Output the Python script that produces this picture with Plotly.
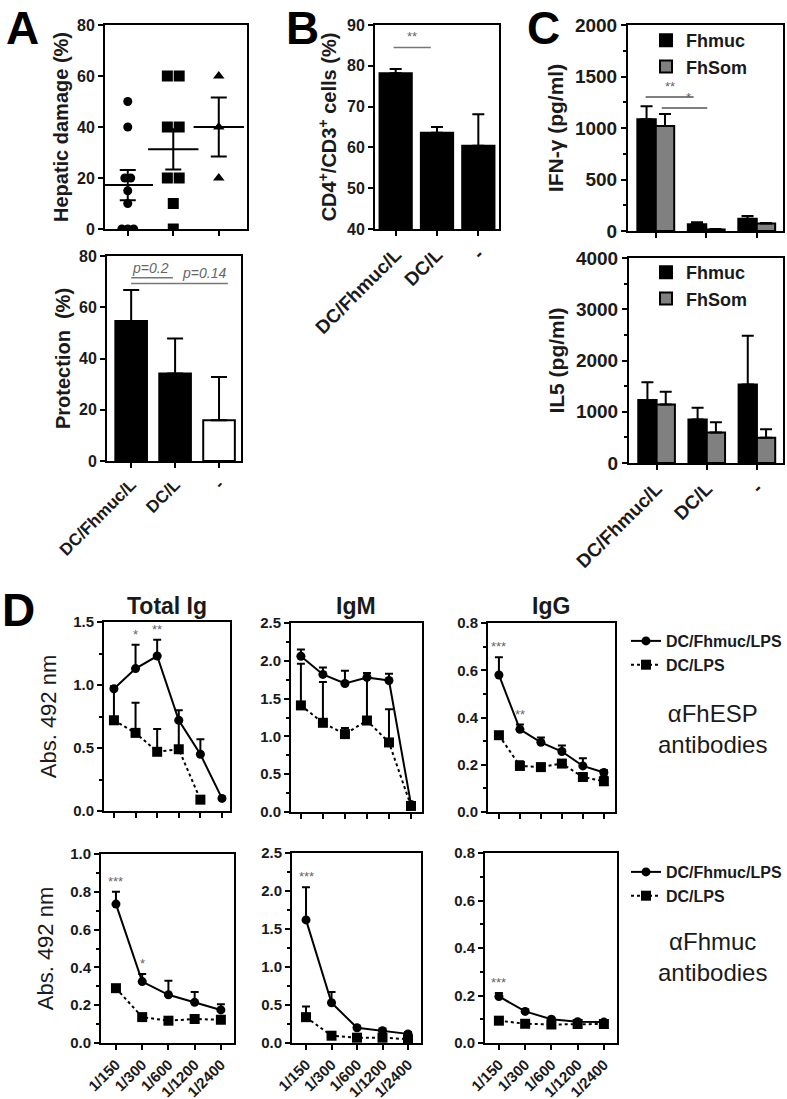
import plotly.graph_objects as go
import numpy as np

W, H = 787, 1099
FONT = "Liberation Sans, Arial, sans-serif"

# ---------------- data ----------------
groups = ["DC/Fhmuc/L", "DC/L", "-"]

# A (top) hepatic damage, individual animals
hep_dcfhmuc = [50, 40, 20, 20, 15, 10, 0, 0, 0]
hep_dcl = [60, 60, 40, 40, 20, 20, 10, 0]
hep_none = [60, 40, 20]

# A (bottom) protection
protection = [54.6, 34.1, 15.9]
protection_err = [12.1, 13.7, 16.9]

# B CD4+/CD3+
cd4 = [78.2, 63.6, 60.4]
cd4_err = [1.0, 1.4, 7.7]

# C cytokines
series_c = ["Fhmuc", "FhSom"]
ifng_fhmuc = [1085, 65, 120]
ifng_fhmuc_err = [125, 20, 25]
ifng_fhsom = [1020, 15, 72]
ifng_fhsom_err = [115, 5, 5]
il5_fhmuc = [1230, 850, 1530]
il5_fhmuc_err = [345, 230, 955]
il5_fhsom = [1140, 595, 495]
il5_fhsom_err = [250, 200, 165]

# D antibodies
series_d = ["DC/Fhmuc/LPS", "DC/LPS"]
dil_top = ["1/150", "1/300", "1/600", "1/1200", "1/2400", "1/4800"]
dil_bottom = ["1/150", "1/300", "1/600", "1/1200", "1/2400"]

esp_total_fh = [0.97, 1.13, 1.23, 0.72, 0.45, 0.10]
esp_total_fh_err = [0.02, 0.19, 0.13, 0.08, 0.12, 0.0]
esp_total_lps = [0.72, 0.62, 0.47, 0.49, 0.09, None]
esp_total_lps_err = [0.25, 0.24, 0.18, 0.22, 0.0, 0.0]

esp_igm_fh = [2.06, 1.82, 1.70, 1.78, 1.74, 0.10]
esp_igm_fh_err = [0.09, 0.09, 0.17, 0.06, 0.09, 0.0]
esp_igm_lps = [1.41, 1.18, 1.03, 1.21, 0.92, 0.08]
esp_igm_lps_err = [0.55, 0.54, 0.08, 0.57, 0.44, 0.02]

esp_igg_fh = [0.58, 0.35, 0.295, 0.256, 0.195, 0.167]
esp_igg_fh_err = [0.075, 0.02, 0.02, 0.025, 0.033, 0.01]
esp_igg_lps = [0.325, 0.195, 0.19, 0.205, 0.148, 0.13]
esp_igg_lps_err = [0.01, 0.02, 0.01, 0.01, 0.017, 0.02]

muc_total_fh = [0.735, 0.325, 0.255, 0.215, 0.175]
muc_total_fh_err = [0.065, 0.04, 0.075, 0.055, 0.03]
muc_total_lps = [0.29, 0.137, 0.118, 0.127, 0.123]
muc_total_lps_err = [0.015, 0.005, 0.005, 0.005, 0.005]

muc_igm_fh = [1.62, 0.53, 0.20, 0.16, 0.12]
muc_igm_fh_err = [0.43, 0.14, 0.02, 0.03, 0.02]
muc_igm_lps = [0.34, 0.096, 0.07, 0.07, 0.05]
muc_igm_lps_err = [0.14, 0.01, 0.01, 0.01, 0.01]

muc_igg_fh = [0.196, 0.133, 0.10, 0.09, 0.088]
muc_igg_fh_err = [0.015, 0.008, 0.006, 0.004, 0.004]
muc_igg_lps = [0.094, 0.081, 0.078, 0.08, 0.08]
muc_igg_lps_err = [0.005, 0.004, 0.004, 0.004, 0.004]

# significance marks (index of point, label)
esp_total_stars = [(1, "*"), (2, "**")]
esp_igg_stars = [(0, "***"), (1, "**")]
muc_total_stars = [(0, "***"), (1, "*")]
muc_igm_stars = [(0, "***")]
muc_igg_stars = [(0, "***")]

# ---------------- helpers ----------------
def dom(l, r, t, b):
    return [l / W, r / W], [1 - b / H, 1 - t / H]


def tf(size=16, weight="bold", color="#1a1a1a"):
    return dict(family=FONT, size=size, color=color, weight=weight)


def base_axis(**kw):
    d = dict(showline=True, linewidth=2, linecolor="black", mirror=True,
             ticks="outside", ticklen=5, tickwidth=2, tickcolor="black",
             showgrid=False, zeroline=False, automargin=False,
             tickfont=tf(16), fixedrange=True)
    d.update(kw)
    return d


def up_err(arr, w=5):
    return dict(type="data", symmetric=False, array=arr,
                arrayminus=[0] * len(arr), color="black", thickness=2, width=w)


def spread(vals, step):
    tot = {v: vals.count(v) for v in vals}
    seen = {}
    offs = []
    for v in vals:
        k = seen.get(v, 0)
        seen[v] = k + 1
        offs.append((k - (tot[v] - 1) / 2) * step)
    return offs


def note(text, xref, yref, x, y, font, **kw):
    d = dict(text=text, xref=xref, yref=yref, x=x, y=y, showarrow=False, font=font,
             xanchor="center", yanchor="middle")
    d.update(kw)
    return d


fig = go.Figure()
layout = dict(width=W, height=H, margin=dict(l=0, r=0, t=0, b=0),
              paper_bgcolor="white", plot_bgcolor="white",
              template="none", barmode="group", bargap=0.27, bargroupgap=0,
              font=dict(family=FONT, color="black"))
annotations = []
shapes = []
GRAY_TXT = tf(13, "normal", "#666")

# ---------------- panel A top ----------------
xd, yd = dom(105, 247, 25, 229)
layout["xaxis"] = base_axis(domain=xd, anchor="y", range=[-0.5, 2.62],
                            tickvals=[0, 1, 2], showticklabels=False)
layout["yaxis"] = base_axis(domain=yd, anchor="x", range=[0, 80], dtick=20,
                            title=dict(text="Hepatic damage (%)", font=tf(20), standoff=3))
sets = [(hep_dcfhmuc, "circle", 9, 0.13), (hep_dcl, "square", 11, 0.26),
        (hep_none, "triangle-up", 10, 0.2)]
for i, (vals, sym, sz, step) in enumerate(sets):
    offs = spread(vals, step)
    fig.add_trace(go.Scatter(x=[i + o for o in offs], y=vals, mode="markers",
                             marker=dict(symbol=sym, size=sz, color="black"),
                             xaxis="x", yaxis="y", showlegend=False))
    arr = np.array(vals, dtype=float)
    mean = arr.mean()
    sem = arr.std(ddof=1) / np.sqrt(len(arr))
    fig.add_trace(go.Scatter(x=[i], y=[mean], mode="markers",
                             marker=dict(symbol="line-ew", size=36,
                                         line=dict(color="black", width=2)),
                             error_y=dict(type="data", array=[sem], color="black",
                                          thickness=2, width=8),
                             xaxis="x", yaxis="y", showlegend=False))

# ---------------- panel A bottom ----------------
xd, yd = dom(107, 241, 256, 461)
layout["xaxis2"] = base_axis(domain=xd, anchor="y2", type="category",
                             categoryarray=groups, range=[-0.55, 2.5],
                             tickangle=-45, tickfont=tf(17))
layout["yaxis2"] = base_axis(domain=yd, anchor="x2", range=[0, 80], dtick=20,
                             title=dict(text="Protection  (%)", font=tf(20), standoff=3))
fig.add_trace(go.Bar(x=groups, y=protection, width=0.72,
                     marker=dict(color=["black", "black", "white"],
                                 line=dict(color="black", width=2)),
                     error_y=up_err(protection_err, 8),
                     xaxis="x2", yaxis="y2", showlegend=False))
shapes.append(dict(type="line", xref="x2", yref="y2", x0=0, x1=0.95, y0=71.5, y1=71.5,
                   line=dict(color="#777", width=1.5)))
shapes.append(dict(type="line", xref="x2", yref="y2", x0=0, x1=2.2, y0=69.3, y1=69.3,
                   line=dict(color="#777", width=1.5)))
annotations.append(note("<i>p=0.2</i>", "x2", "y2", 0.43, 71.5, tf(14, "normal", "#666"),
                        yanchor="bottom"))
annotations.append(note("<i>p=0.14</i>", "x2", "y2", 1.66, 69.3, tf(14, "normal", "#666"),
                        yanchor="bottom"))

# ---------------- panel B ----------------
xd, yd = dom(375, 499, 25, 229)
layout["xaxis3"] = base_axis(domain=xd, anchor="y3", type="category",
                             categoryarray=groups, range=[-0.5, 2.5],
                             tickangle=-45, tickfont=tf(19))
layout["yaxis3"] = base_axis(domain=yd, anchor="x3", range=[40, 90], dtick=10,
                             title=dict(text="CD4<sup>+</sup>/CD3<sup>+</sup> cells (%)",
                                        font=tf(20), standoff=5))
fig.add_trace(go.Bar(x=groups, y=cd4, width=0.78,
                     marker=dict(color="black", line=dict(color="black", width=2)),
                     error_y=up_err(cd4_err, 6),
                     xaxis="x3", yaxis="y3", showlegend=False))
shapes.append(dict(type="line", xref="x3", yref="y3", x0=-0.05, x1=0.85, y0=84.5, y1=84.5,
                   line=dict(color="#777", width=1.5)))
annotations.append(note("**", "x3", "y3", 0.4, 84.5, GRAY_TXT, yanchor="bottom", yshift=1))

# ---------------- panel C top ----------------
xd, yd = dom(628, 783, 25, 231)
layout["xaxis4"] = base_axis(domain=xd, anchor="y4", type="category",
                             categoryarray=groups, range=[-0.55, 2.52],
                             showticklabels=False)
layout["yaxis4"] = base_axis(domain=yd, anchor="x4", range=[0, 2000], dtick=500,
                             tickfont=tf(19),
                             minor=dict(dtick=250, ticks="outside", ticklen=3,
                                        tickwidth=1.5, tickcolor="black"),
                             title=dict(text="IFN-γ (pg/ml)", font=tf(21), standoff=6))
for name, vals, errs, col in [(series_c[0], ifng_fhmuc, ifng_fhmuc_err, "black"),
                              (series_c[1], ifng_fhsom, ifng_fhsom_err, "#808080")]:
    fig.add_trace(go.Bar(x=groups, y=vals, name=name,
                         marker=dict(color=col, line=dict(color="black", width=2)),
                         error_y=up_err(errs, 6), xaxis="x4", yaxis="y4",
                         legend="legend"))
shapes.append(dict(type="line", xref="x4", yref="y4", x0=-0.2, x1=0.75, y0=1300, y1=1300,
                   line=dict(color="#555", width=1.5)))
shapes.append(dict(type="line", xref="x4", yref="y4", x0=0.12, x1=1.02, y0=1195, y1=1195,
                   line=dict(color="#555", width=1.5)))
annotations.append(note("**", "x4", "y4", 0.28, 1300, GRAY_TXT, yanchor="bottom", yshift=1))
annotations.append(note("*", "x4", "y4", 0.65, 1195, GRAY_TXT, yanchor="bottom", yshift=1))

# ---------------- panel C bottom ----------------
xd, yd = dom(629, 783, 258, 463)
layout["xaxis5"] = base_axis(domain=xd, anchor="y5", type="category",
                             categoryarray=groups, range=[-0.55, 2.52],
                             tickangle=-45, tickfont=tf(19))
layout["yaxis5"] = base_axis(domain=yd, anchor="x5", range=[0, 4000], dtick=1000,
                             tickfont=tf(19),
                             minor=dict(dtick=500, ticks="outside", ticklen=3,
                                        tickwidth=1.5, tickcolor="black"),
                             title=dict(text="IL5 (pg/ml)", font=tf(21), standoff=6))
for name, vals, errs, col in [(series_c[0], il5_fhmuc, il5_fhmuc_err, "black"),
                              (series_c[1], il5_fhsom, il5_fhsom_err, "#808080")]:
    fig.add_trace(go.Bar(x=groups, y=vals, name=name,
                         marker=dict(color=col, line=dict(color="black", width=2)),
                         error_y=up_err(errs, 6), xaxis="x5", yaxis="y5",
                         legend="legend2"))

# ---------------- panel D ----------------
d_panels = [
    (6, (104, 230, 622, 811), 1.5, 0.5, 0.25, dil_top, [-0.46, 5.37],
     esp_total_fh, esp_total_fh_err, esp_total_lps, esp_total_lps_err, esp_total_stars, "legend3", True),
    (7, (291, 422, 623, 812), 2.5, 0.5, 0.25, dil_top, [-0.45, 5.5],
     esp_igm_fh, esp_igm_fh_err, esp_igm_lps, esp_igm_lps_err, [], None, False),
    (8, (488, 615, 623, 812), 0.8, 0.2, 0.1, dil_top, [-0.52, 5.53],
     esp_igg_fh, esp_igg_fh_err, esp_igg_lps, esp_igg_lps_err, esp_igg_stars, None, False),
    (9, (101, 234, 854, 1043), 1.0, 0.2, 0.1, dil_bottom, [-0.57, 4.5],
     muc_total_fh, muc_total_fh_err, muc_total_lps, muc_total_lps_err, muc_total_stars, "legend4", True),
    (10, (292, 421, 853, 1043), 2.5, 0.5, 0.25, dil_bottom, [-0.55, 4.51],
     muc_igm_fh, muc_igm_fh_err, muc_igm_lps, muc_igm_lps_err, muc_igm_stars, None, False),
    (11, (485, 617, 853, 1043), 0.8, 0.2, 0.1, dil_bottom, [-0.53, 4.5],
     muc_igg_fh, muc_igg_fh_err, muc_igg_lps, muc_igg_lps_err, muc_igg_stars, None, False),
]
for (k, box, ymax, dt, mn, cats, xr, fh, fhe, lps, lpse, stars, leg, ytl) in d_panels:
    xd, yd = dom(*box)
    xa, ya = f"x{k}", f"y{k}"
    bottom = cats is dil_bottom
    layout[f"xaxis{k}"] = base_axis(domain=xd, anchor=ya, type="category",
                                    categoryarray=cats, range=xr,
                                    showticklabels=bottom, tickangle=-45,
                                    tickfont=tf(15))
    yax = base_axis(domain=yd, anchor=xa, range=[0, ymax], dtick=dt, tickformat=".1f",
                    tickfont=tf(15),
                    minor=dict(dtick=mn, ticks="outside", ticklen=3, tickwidth=1.5,
                               tickcolor="black"))
    if ytl:
        yax["title"] = dict(text="Abs. 492 nm", font=tf(22, "normal"), standoff=10)
    layout[f"yaxis{k}"] = yax
    fig.add_trace(go.Scatter(x=cats, y=lps, name=series_d[1], mode="lines+markers",
                             line=dict(color="black", width=2, dash="dot"),
                             marker=dict(symbol="square", size=10, color="black"),
                             error_y=up_err(lpse, 4), xaxis=xa, yaxis=ya,
                             showlegend=leg is not None, legend=leg or "legend3",
                             legendrank=2))
    fig.add_trace(go.Scatter(x=cats, y=fh, name=series_d[0], mode="lines+markers",
                             line=dict(color="black", width=2),
                             marker=dict(symbol="circle", size=9, color="black"),
                             error_y=up_err(fhe, 4), xaxis=xa, yaxis=ya,
                             showlegend=leg is not None, legend=leg or "legend3",
                             legendrank=1))
    for idx, lab in stars:
        annotations.append(note(lab, xa, ya, cats[idx], fh[idx] + fhe[idx], GRAY_TXT,
                                yanchor="bottom", yshift=1))

# D titles & side texts
for txt, cx in [("Total Ig", 167), ("IgM", 356), ("IgG", 551)]:
    annotations.append(note(txt, "paper", "paper", cx / W, 1 - 606 / H, tf(23)))
for txt, cy in [("αFhESP<br>antibodies", 729), ("αFhmuc<br>antibodies", 957)]:
    annotations.append(note(txt, "paper", "paper", 712 / W, 1 - cy / H, tf(24, "normal")))

# panel letters
LETTER = dict(family=FONT, size=46, weight="bold", color="black")
for txt, cx in [("A", 22), ("B", 302), ("C", 543)]:
    annotations.append(note(txt, "paper", "paper", cx / W, 1.0, LETTER, yanchor="top"))
annotations.append(note("D", "paper", "paper", 18 / W, 1 - 610 / H, LETTER))

legend_common = dict(bgcolor="rgba(0,0,0,0)", xanchor="left", yanchor="top",
                     traceorder="normal", tracegroupgap=0)
layout["legend"] = dict(legend_common, x=646 / W, y=1 - 22 / H, font=tf(18))
layout["legend2"] = dict(legend_common, x=646 / W, y=1 - 254 / H, font=tf(18))
layout["legend3"] = dict(legend_common, x=626 / W, y=1 - 624 / H, font=tf(16))
layout["legend4"] = dict(legend_common, x=626 / W, y=1 - 855 / H, font=tf(16))

layout["annotations"] = annotations
layout["shapes"] = shapes
fig.update_layout(**layout)

fig.write_html("out.html", config={"displayModeBar": False},
               post_script="document.body.style.margin='0';")
